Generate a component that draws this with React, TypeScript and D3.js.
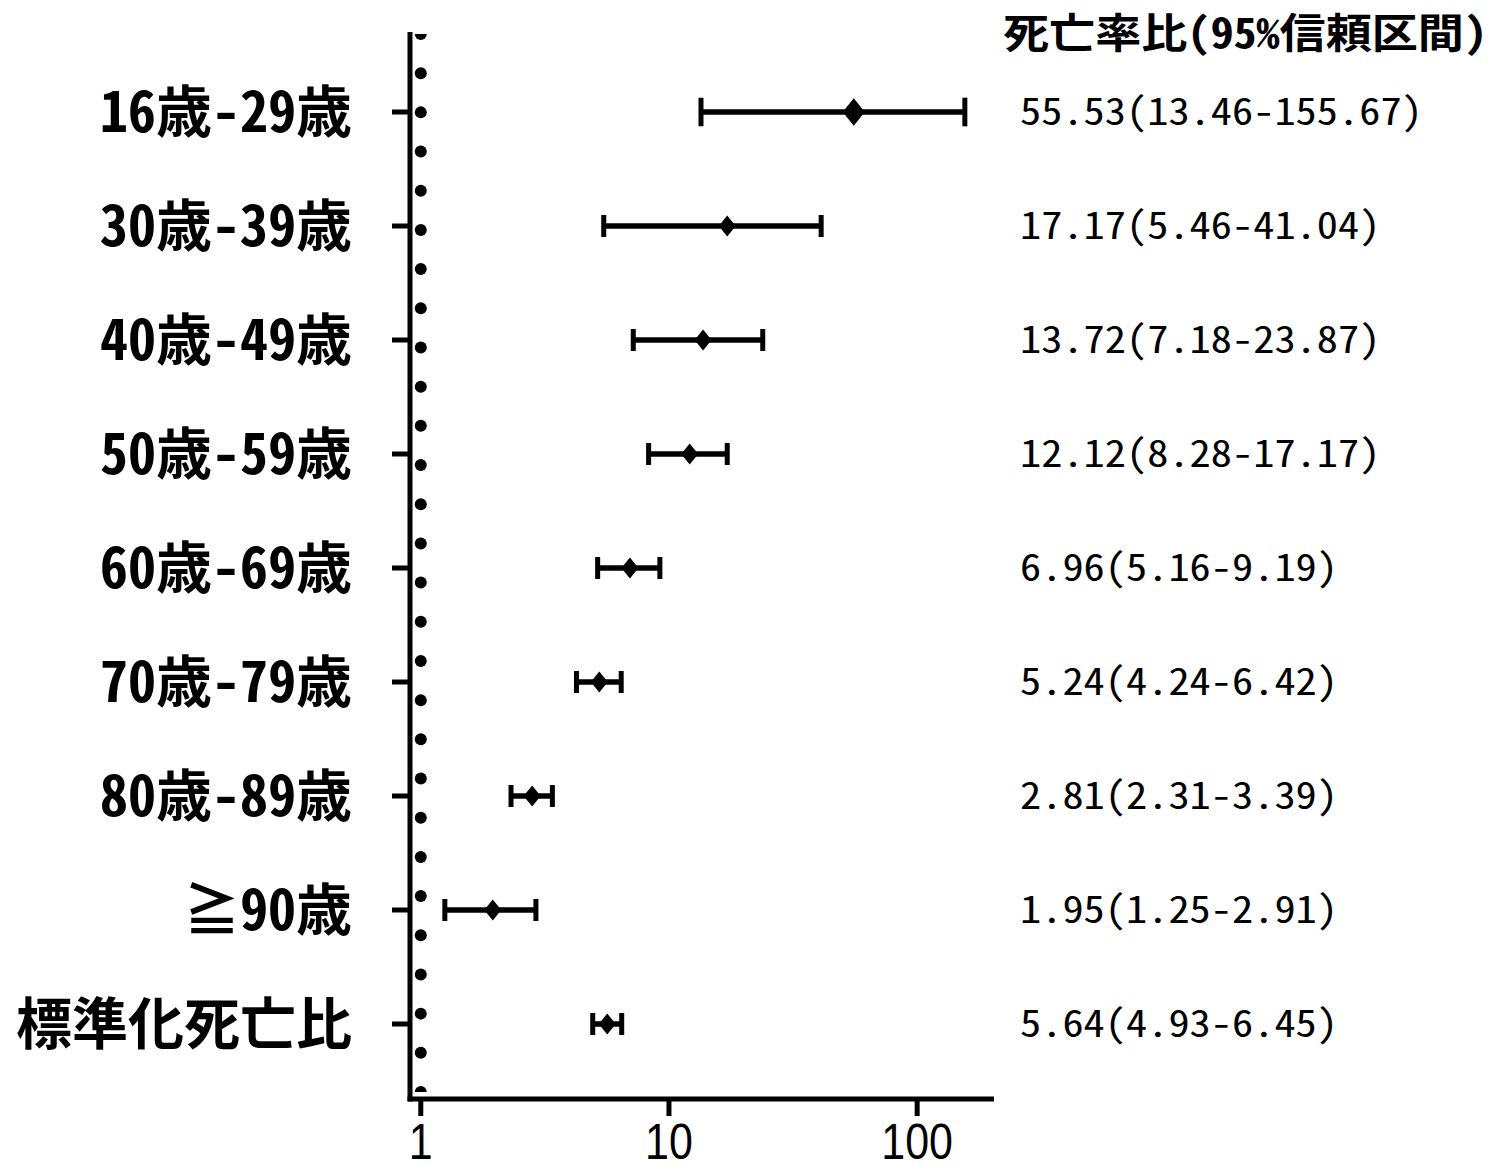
import React from "react";
import { scaleLog, scalePoint, range } from "d3";

// rows, top to bottom
const groups = [
  "16歳-29歳",
  "30歳-39歳",
  "40歳-49歳",
  "50歳-59歳",
  "60歳-69歳",
  "70歳-79歳",
  "80歳-89歳",
  "≧90歳",
  "標準化死亡比",
];
const ratio = [55.53, 17.17, 13.72, 12.12, 6.96, 5.24, 2.81, 1.95, 5.64];
const ciLow = [13.46, 5.46, 7.18, 8.28, 5.16, 4.24, 2.31, 1.25, 4.93];
const ciHigh = [155.67, 41.04, 23.87, 17.17, 9.19, 6.42, 3.39, 2.91, 6.45];
const ciText = [
  "55.53(13.46-155.67)",
  "17.17(5.46-41.04)",
  "13.72(7.18-23.87)",
  "12.12(8.28-17.17)",
  "6.96(5.16-9.19)",
  "5.24(4.24-6.42)",
  "2.81(2.31-3.39)",
  "1.95(1.25-2.91)",
  "5.64(4.93-6.45)",
];
const xTicks = [1, 10, 100];
const header = "死亡率比(95%信頼区間)";

const W = 1497;
const H = 1170;
const axisX = 410;
const axisY = 1099;
const plotTop = 32;

const jp = "'Noto Sans Mono CJK JP', 'Noto Sans CJK JP', sans-serif";
const mono = "'Noto Sans Mono CJK JP', 'Liberation Mono', monospace";

export default function App() {
  const x = scaleLog().domain([0.88, 204]).range([407, 994]);
  const y = scalePoint<string>().domain(groups).range([112, 1024]);

  // dotted reference line at ratio = 1
  const dotTop = 34;
  const dotBottom = 1092;
  const nDots = 28;
  const dotStep = (dotBottom - dotTop) / (nDots - 1);

  return (
    <svg width={W} height={H} style={{ display: "block", position: "absolute", left: 0, top: 0 }}>
      <defs>
        <clipPath id="plotClip">
          <rect x={axisX} y={dotTop} width={600} height={dotBottom - dotTop} />
        </clipPath>
      </defs>
      <rect width={W} height={H} fill="#fff" />

      <g clipPath="url(#plotClip)">
        {range(nDots).map((k) => (
          <circle key={k} cx={x(1)} cy={dotTop + k * dotStep} r={6} fill="#000" />
        ))}
      </g>

      {/* axes */}
      <line x1={axisX} x2={axisX} y1={plotTop} y2={axisY + 2.5} stroke="#000" strokeWidth={5} />
      <line x1={axisX - 2.5} x2={994} y1={axisY} y2={axisY} stroke="#000" strokeWidth={5} />
      {groups.map((g) => (
        <line key={g} x1={392} x2={axisX} y1={y(g)} y2={y(g)} stroke="#000" strokeWidth={5} />
      ))}
      {xTicks.map((t) => (
        <g key={t}>
          <line x1={x(t)} x2={x(t)} y1={axisY} y2={axisY + 17} stroke="#000" strokeWidth={5} />
          <text
            transform={`translate(${x(t)},1159) scale(0.86,1)`}
            textAnchor="middle"
            fontFamily="'Liberation Sans', Arial, sans-serif"
            fontSize={50}
            fill="#000"
          >
            {t}
          </text>
        </g>
      ))}

      {/* group labels */}
      {groups.map((g) => (
        <text
          key={g}
          x={352}
          y={(y(g) as number) + 20}
          textAnchor="end"
          fontFamily={jp}
          fontWeight="bold"
          fontSize={56}
          fill="#000"
        >
          {g}
        </text>
      ))}

      {/* error bars and markers */}
      {groups.map((g, i) => {
        const cy = y(g) as number;
        const big = i === 0 ? 1.3 : 1;
        const cap = 11 * big;
        const dw = 8.5 * big;
        const dh = 10.5 * big;
        const cx = x(ratio[i]);
        return (
          <g key={g}>
            <line x1={x(ciLow[i])} x2={x(ciHigh[i])} y1={cy} y2={cy} stroke="#000" strokeWidth={5.5} />
            <line x1={x(ciLow[i])} x2={x(ciLow[i])} y1={cy - cap} y2={cy + cap} stroke="#000" strokeWidth={5} />
            <line x1={x(ciHigh[i])} x2={x(ciHigh[i])} y1={cy - cap} y2={cy + cap} stroke="#000" strokeWidth={5} />
            <path
              d={`M${cx - dw},${cy}L${cx},${cy - dh}L${cx + dw},${cy}L${cx},${cy + dh}Z`}
              fill="#000"
            />
          </g>
        );
      })}

      {/* right column */}
      <text
        x={1003}
        y={48}
        fontFamily={jp}
        fontWeight="bold"
        fontSize={41}
        textLength={484}
        lengthAdjust="spacingAndGlyphs"
        fill="#000"
      >
        {header}
      </text>
      {groups.map((g, i) => (
        <text
          key={g}
          x={1020}
          y={(y(g) as number) + 13}
          fontFamily={mono}
          fontSize={38}
          textLength={ciText[i].length * 21.2}
          lengthAdjust="spacingAndGlyphs"
          fill="#000"
        >
          {ciText[i]}
        </text>
      ))}
    </svg>
  );
}
